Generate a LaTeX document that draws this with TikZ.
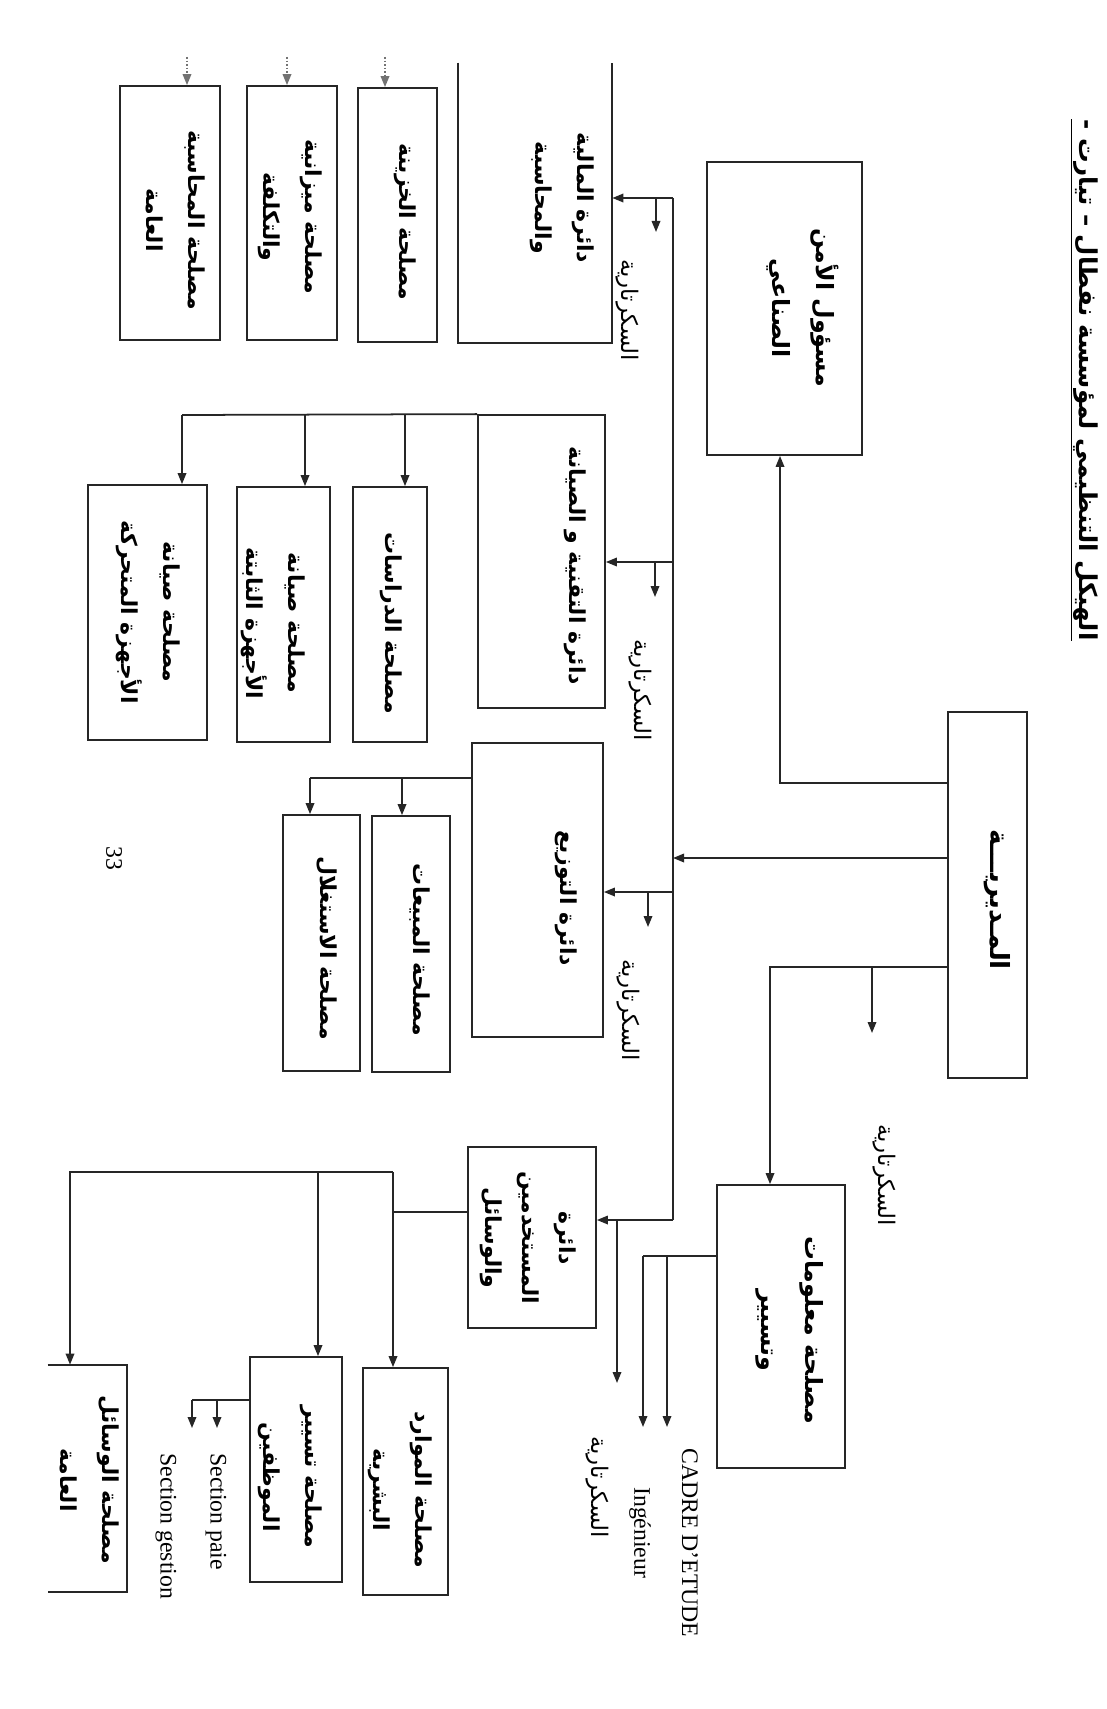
\documentclass[tikz,border=0pt]{standalone}
\usepackage{fontspec}
\setmainfont{Liberation Serif}
\newfontfamily\arfont[Script=Arabic]{DejaVu Sans}
\TeXXeTstate=1
\usetikzlibrary{arrows.meta,fit}
\newcommand\AR[1]{\beginR #1\endR}
\begin{document}
\begin{tikzpicture}[x=0.02cm,y=-0.02cm,
  ln/.style={line width=1pt, draw=black!85},
  arr/.style={ln, -{Triangle[length=0.22cm,width=0.17cm]}},
  darr/.style={arr, densely dotted, draw=black!55},
  box/.style={draw=black!85, line width=1pt, inner sep=0pt},
  bare/.style={inner sep=0pt},
  atxt/.style={rotate=-90, align=center, inner sep=0pt, font=\arfont\bfseries\fontsize{12.5}{24}\selectfont},
  btxt/.style={atxt, font=\arfont\bfseries\fontsize{13.5}{25}\selectfont},
  stxt/.style={rotate=-90, inner sep=0pt, font=\arfont\fontsize{13}{16}\selectfont},
  ltxt/.style={rotate=-90, inner sep=0pt, anchor=west, font=\fontsize{13.5}{16}\selectfont}]
\fill[white] (0,0) rectangle (1106,1709);
\useasboundingbox (0,0) rectangle (1106,1709);

% title
\node[rotate=-90, inner sep=0pt, font=\arfont\bfseries\fontsize{14}{17}\selectfont] (title) at (1084,380)
  {\underline{\AR{الهيكل التنظيمي لمؤسسة نفطال – تيارت -}}};

% boxes
\node[box, fit={(707,162) (862,455)}] (sec) {};
\node[box, fit={(948,712) (1027,1078)}] (dir) {};
\node[bare, fit={(458,63) (612,343)}] (fin) {};
\node[box, fit={(478,415) (605,708)}] (tech) {};
\node[box, fit={(472,743) (603,1037)}] (dist) {};
\node[box, fit={(468,1147) (596,1328)}] (pers) {};
\node[box, fit={(717,1185) (845,1468)}] (info) {};
\node[box, fit={(358,88) (437,342)}] (kh) {};
\node[box, fit={(247,86) (337,340)}] (mz) {};
\node[box, fit={(120,86) (220,340)}] (mh) {};
\node[box, fit={(353,487) (427,742)}] (dr) {};
\node[box, fit={(237,487) (330,742)}] (th) {};
\node[box, fit={(88,485) (207,740)}] (mt) {};
\node[box, fit={(372,816) (450,1072)}] (mb) {};
\node[box, fit={(283,815) (360,1071)}] (st) {};
\node[box, fit={(363,1368) (448,1595)}] (hr) {};
\node[box, fit={(250,1357) (342,1582)}] (em) {};
\node[bare, fit={(48,1365) (127,1592)}] (ws) {};
\draw[ln] (fin.north west) -- (fin.south west) -- (fin.south east) -- (fin.north east);
\draw[ln] (ws.north west) -- (ws.north east) -- (ws.south east) -- (ws.south west);

% box texts
\node[btxt] (tsec) at (803,308) {\AR{مسؤول الأمن}\\\AR{الصناعي}};
\node[btxt, font=\arfont\bfseries\fontsize{15}{25}\selectfont] (tdir) at (997,900) {\AR{المـديريـــة}};
\node[atxt] (tfin) at (562,198) {\AR{دائرة المالية}\\\AR{والمحاسبة}};
\node[atxt] (ttech) at (575,566) {\AR{دائرة التقنية و الصيانة}};
\node[atxt] (tdist) at (566,898) {\AR{دائرة التوزيع}};
\node[atxt, font=\arfont\bfseries\fontsize{12.5}{21}\selectfont] (tpers) at (528,1238) {\AR{دائرة}\\\AR{المستخدمين}\\\AR{والوسائل}};
\node[btxt] (tinfo) at (790,1330) {\AR{مصلحة معلومات}\\\AR{وتسيير}};
\node[atxt] (tkh) at (405,222) {\AR{مصلحة الخزينة}};
\node[atxt] (tmz) at (290,217) {\AR{مصلحة ميزانية}\\\AR{والتكلفة}};
\node[atxt] (tmh) at (176,220) {\AR{مصلحة المحاسبة}\\\AR{العامة}};
\node[atxt] (tdr) at (391,623) {\AR{مصلحة الدراسات}};
\node[atxt] (tth) at (273,623) {\AR{مصلحة صيانة}\\\AR{الأجهزة الثابتة}};
\node[atxt] (tmt) at (148,612) {\AR{مصلحة صيانة}\\\AR{الأجهزة المتحركة}};
\node[atxt] (tmb) at (420,950) {\AR{مصلحة المبيعات}};
\node[atxt] (tst) at (327,948) {\AR{مصلحة الاستغلال}};
\node[atxt] (thr) at (400,1490) {\AR{مصلحة الموارد}\\\AR{البشرية}};
\node[atxt] (tem) at (290,1477) {\AR{مصلحة تسيير}\\\AR{الموظفين}};
\node[atxt] (tws) at (90,1480) {\AR{مصلحة الوسائل}\\\AR{العامة}};

% secretariat labels
\node[stxt] (lsd) at (884,1175) {\AR{السكرتارية}};
\node[stxt] (lsf) at (627,310) {\AR{السكرتارية}};
\node[stxt] (lst) at (640,690) {\AR{السكرتارية}};
\node[stxt] (lsdi) at (628,1010) {\AR{السكرتارية}};
\node[stxt] (lsp) at (597,1487) {\AR{السكرتارية}};
\node[ltxt] (lcad) at (690,1448) {CADRE D'ETUDE};
\node[ltxt] (ling) at (640,1487) {Ingénieur};
\node[ltxt] (lpaie) at (216,1453) {Section paie};
\node[ltxt] (lgest) at (166,1453) {Section gestion};
\node[rotate=-90, inner sep=0pt, font=\fontsize{13.5}{16}\selectfont] (pnum) at (114,858) {33};

% direction links
\coordinate (jS) at (780,783);
\draw[arr] (dir.west |- jS) -- (jS) -- (jS |- sec.south);
\coordinate (jI) at (770,967);
\draw[arr] (dir.west |- jI) -- (jI) -- (jI |- info.north);
\coordinate (sDir) at (872,967);
\draw[arr] (sDir) -- ++(0,66);

% bus
\coordinate (bT) at (673,198);
\coordinate (bD) at (673,858);
\coordinate (bTe) at (673,562);
\coordinate (bDi) at (673,892);
\coordinate (bB) at (673,1220);
\draw[ln] (bT) -- (bB);
\draw[arr] (dir.west |- bD) -- (bD);
\draw[arr] (bT) -- (bT -| fin.east);
\draw[arr] (bTe) -- (bTe -| tech.east);
\draw[arr] (bDi) -- (bDi -| dist.east);
\draw[arr] (bB) -- (bB -| pers.east);

% secretariat arrows
\coordinate (sF) at (656,198);
\draw[arr] (sF) -- ++(0,34);
\coordinate (sT) at (655,562);
\draw[arr] (sT) -- ++(0,35);
\coordinate (sD) at (648,892);
\draw[arr] (sD) -- ++(0,35);
\coordinate (sP) at (617,1220);
\draw[arr] (sP) -- ++(0,163);

% info outputs
\coordinate (iA) at (667,1256);
\coordinate (iB) at (643,1256);
\draw[ln] (info.west |- iB) -- (iB);
\draw[arr] (iA) -- ++(0,171);
\draw[arr] (iB) -- ++(0,171);

% finance services
\coordinate (fk1) at (385,57);
\coordinate (fk2) at (287,57);
\coordinate (fk3) at (187,57);
\draw[darr] (fk1) -- (fk1 |- kh.north);
\draw[darr] (fk2) -- (fk2 |- mz.north);
\draw[darr] (fk3) -- (fk3 |- mh.north);

% technical services
\coordinate (tL) at (182,415);
\coordinate (t1) at (405,415);
\coordinate (t2) at (305,415);
\draw[ln] (tech.north west) -- (tL);
\draw[arr] (t1) -- (t1 |- dr.north);
\draw[arr] (t2) -- (t2 |- th.north);
\draw[arr] (tL) -- (tL |- mt.north);

% distribution services
\coordinate (dL) at (310,778);
\coordinate (d1) at (402,778);
\draw[ln] (dist.west |- dL) -- (dL);
\draw[arr] (d1) -- (d1 |- mb.north);
\draw[arr] (dL) -- (dL |- st.north);

% personnel services
\coordinate (p0) at (393,1212);
\coordinate (pU) at (393,1172);
\coordinate (pM) at (318,1172);
\coordinate (pL) at (70,1172);
\draw[ln] (pers.west |- p0) -- (p0);
\draw[arr] (pU) -- (pU |- hr.north);
\draw[arr] (pU) -- (pL) -- (pL |- ws.north);
\draw[arr] (pM) -- (pM |- em.north);
\coordinate (sA) at (217,1400);
\coordinate (sB) at (192,1400);
\draw[ln] (em.west |- sB) -- (sB);
\draw[arr] (sA) -- ++(0,28);
\draw[arr] (sB) -- ++(0,28);
\end{tikzpicture}
\end{document}
